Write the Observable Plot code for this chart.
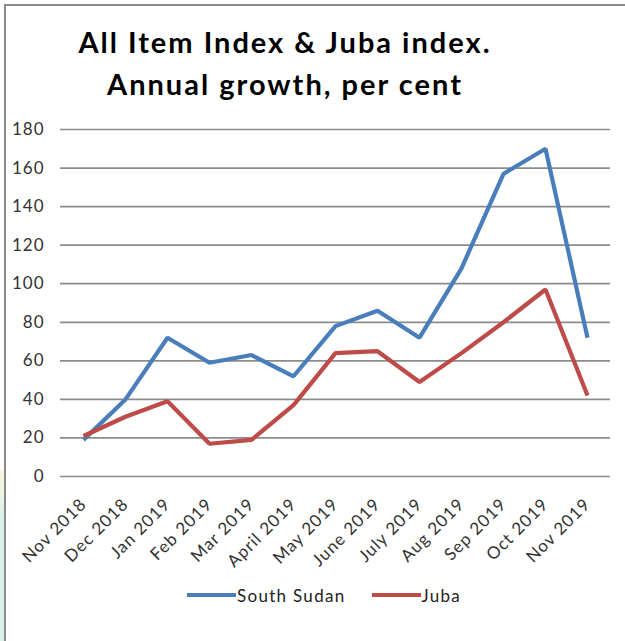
<!DOCTYPE html>
<html>
<head>
<meta charset="utf-8">
<script src="https://cdn.jsdelivr.net/npm/d3@7"></script>
<script src="https://cdn.jsdelivr.net/npm/@observablehq/plot@0.6"></script>
<style>
  html, body { margin: 0; padding: 0; background: #fff; }
  #wrap { position: relative; width: 625px; height: 641px; overflow: hidden; background: #fff; font-family: Lato, "Open Sans", sans-serif; }
  #frame { position: absolute; left: 4px; top: 4px; width: 640px; height: 660px; border-left: 2px solid #8a8a8a; border-top: 2px solid #8a8a8a; box-sizing: border-box; pointer-events: none; }
  #tint { position: absolute; left: 0; top: 470px; width: 4px; height: 171px; background: linear-gradient(#fbf6dc, #d6f2ea 30%, #d6f2ea); }
  #title { position: absolute; left: 0; top: 21px; width: 570px; text-align: center; font-weight: bold; font-size: 29px; line-height: 42px; letter-spacing: 2px; color: #000; }
  #legend { position: absolute; top: 584px; left: 187px; height: 22px; font-size: 17px; letter-spacing: 1.3px; color: #222; display: flex; align-items: center; white-space: nowrap; }
  .sw { display: inline-block; width: 49px; height: 4px; margin-right: 1px; }
  #chart { position: absolute; left: 0; top: 0; }
</style>
</head>
<body>
<div id="wrap">
  <div id="tint"></div>
  <div id="chart"></div>
  <div id="title">All Item Index &amp; Juba index.<br>Annual growth, per cent</div>
  <div id="legend"></div>
  <div id="frame"></div>
</div>
<script>
const months = ["Nov 2018","Dec 2018","Jan 2019","Feb 2019","Mar 2019","April 2019","May 2019","June 2019","July 2019","Aug 2019","Sep 2019","Oct 2019","Nov 2019"];
const southSudan = [19, 40, 72, 59, 63, 52, 78, 86, 72, 108, 157, 170, 72];
const juba = [21, 31, 39, 17, 19, 37, 64, 65, 49, 64, 80, 97, 42];
const seriesNames = ["South Sudan", "Juba"];
const seriesColors = ["#4a7ebb", "#be4b48"];
const yTicks = [0, 20, 40, 60, 80, 100, 120, 140, 160, 180];

const data = [
  ...months.map((m, i) => ({month: m, value: southSudan[i], series: seriesNames[0]})),
  ...months.map((m, i) => ({month: m, value: juba[i], series: seriesNames[1]}))
];

const chart = Plot.plot({
  width: 625,
  height: 641,
  marginTop: 129,
  marginBottom: 165,
  marginLeft: 60,
  marginRight: 15,
  style: {fontFamily: "Lato, 'Open Sans', sans-serif", fontSize: "17px", color: "#333", background: "transparent", letterSpacing: "1px"},
  x: {type: "point", domain: months, padding: 0.5},
  y: {domain: [0, 180]},
  color: {domain: seriesNames, range: seriesColors},
  marks: [
    Plot.ruleY(yTicks, {stroke: "#8c8c8c", strokeWidth: 1.7, strokeOpacity: 1}),
    Plot.axisY({ticks: yTicks, tickSize: 0, tickPadding: 16, fontSize: 17, fill: "#333", label: null}),
    Plot.axisX({tickSize: 0, tickRotate: -45, tickPadding: 25, fontSize: 17, fill: "#333", label: null, dx: 0}),
    Plot.line(data, {x: "month", y: "value", z: "series", stroke: "series", strokeWidth: 4.2, strokeLinejoin: "miter", strokeLinecap: "butt"})
  ]
});
document.getElementById("chart").appendChild(chart);

const legend = document.getElementById("legend");
seriesNames.forEach((name, i) => {
  const item = document.createElement("span");
  item.style.display = "inline-flex";
  item.style.alignItems = "center";
  item.style.marginRight = i === 0 ? "26px" : "0";
  const sw = document.createElement("span");
  sw.className = "sw";
  sw.style.background = seriesColors[i];
  item.appendChild(sw);
  item.appendChild(document.createTextNode(name));
  legend.appendChild(item);
});
</script>
</body>
</html>
